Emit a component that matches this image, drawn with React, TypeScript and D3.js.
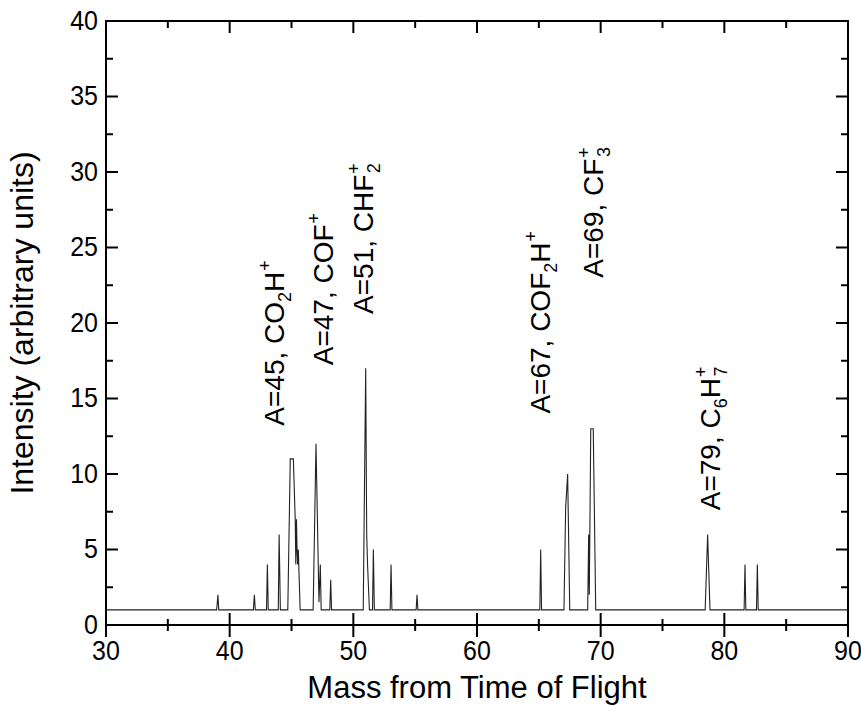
import React from "react";
import * as d3 from "d3";

// ---- data ----
const mass: number[] = [
  30, 38.95, 39.05, 39.12, 41.92, 42.0, 42.07, 42.98, 43.05, 43.12,
  43.93, 44.0, 44.1, 44.7, 44.9, 45.15, 45.3, 45.35, 45.4, 45.45, 45.5, 45.55, 45.7,
  46.75, 46.98, 47.22, 47.33, 47.4, 48.1, 48.17, 48.24,
  50.8, 51.0, 51.08, 51.15, 51.3, 51.55, 51.62, 51.7, 52.98, 53.05, 53.12,
  55.08, 55.15, 55.22, 65.08, 65.15, 65.22,
  67.03, 67.17, 67.33, 67.5, 68.95, 69.03, 69.08, 69.2, 69.4, 69.6,
  78.45, 78.49, 78.65, 78.84, 81.6, 81.67, 81.74, 82.6, 82.67, 82.74, 90,
];
const intensity: number[] = [
  1, 1, 2, 1, 1, 2, 1, 1, 4, 1,
  1, 6, 1, 1, 11, 11, 7, 4, 7, 5, 4, 5, 1,
  1, 12, 1.5, 4, 1, 1, 3, 1,
  1, 17, 6, 4, 1, 1, 5, 1, 1, 4, 1,
  1, 2, 1, 1, 5, 1,
  1, 7.8, 10, 1, 1, 6, 2, 13, 13, 1,
  1, 2, 6, 1, 1, 4, 1, 1, 4, 1, 1,
];

const xTicks: number[] = [30, 40, 50, 60, 70, 80, 90];
const xMinorTicks: number[] = [35, 45, 55, 65, 75, 85];
const yTicks: number[] = [0, 5, 10, 15, 20, 25, 30, 35, 40];
const yMinorTicks: number[] = [2.5, 7.5, 12.5, 17.5, 22.5, 27.5, 32.5, 37.5];

type Part = [string, "n" | "sub" | "sup" | "stack"];
const labelMass: number[] = [44.39, 48.36, 51.59, 65.9, 70.19, 79.65];
const labelIntensity: number[] = [13.2, 17.2, 20.6, 14.0, 23.0, 7.6];
const labelParts: Part[][] = [
  [["A=45, CO", "n"], ["2", "sub"], ["H", "n"], ["+", "sup"]],
  [["A=47, COF", "n"], ["+", "sup"]],
  [["A=51, CHF", "n"], ["+", "sup"], ["2", "stack"]],
  [["A=67, COF", "n"], ["2", "sub"], ["H", "n"], ["+", "sup"]],
  [["A=69, CF", "n"], ["+", "sup"], ["3", "stack"]],
  [["A=79, C", "n"], ["6", "sub"], ["H", "n"], ["+", "sup"], ["7", "stack"]],
];

const xTitle = "Mass from Time of Flight";
const yTitle = "Intensity (arbitrary units)";

const W = 861;
const H = 710;
const FONT = "'Liberation Sans', Arial, Helvetica, sans-serif";

export default function App() {
  const x = d3.scaleLinear().domain([30, 90]).range([106, 848]);
  const y = d3.scaleLinear().domain([0, 40]).range([625, 21]);
  const line = d3
    .line<number>()
    .x((_, i) => x(mass[i]))
    .y((d) => y(d));
  const path = line(intensity) || "";

  const [x0, x1] = x.range();
  const [y0, y1] = y.range();

  const renderParts = (parts: Part[]) => {
    let cur = 0;
    const SUB = 7;
    const SUP = -13;
    return parts.map(([t, kind], i) => {
      let target = 0;
      let dx = 0;
      let fs = 28;
      if (kind === "sub") { target = SUB; fs = 18; }
      if (kind === "sup") { target = SUP; fs = 18; dx = 1; }
      if (kind === "stack") { target = SUB; fs = 18; dx = -10; }
      const dy = target - cur;
      cur = target;
      return (
        <tspan key={i} dy={dy} dx={dx} fontSize={fs}>
          {t}
        </tspan>
      );
    });
  };

  return (
    <svg
      width={W}
      height={H}
      style={{ position: "absolute", left: 0, top: 0, background: "#fff" }}
      fontFamily={FONT}
    >
      <rect x={0} y={0} width={W} height={H} fill="#fff" />
      {/* data line */}
      <path d={path} fill="none" stroke="#222" strokeWidth={1.1} />

      {/* frame */}
      <rect x={x0} y={y1} width={x1 - x0} height={y0 - y1} fill="none" stroke="#000" strokeWidth={2} />

      {/* bottom ticks (crossing) */}
      {xTicks.map((t) => (
        <line key={"xb" + t} x1={x(t)} x2={x(t)} y1={y0 - 12} y2={y0 + 12} stroke="#000" strokeWidth={2} />
      ))}
      {xMinorTicks.map((t) => (
        <line key={"xbm" + t} x1={x(t)} x2={x(t)} y1={y0 - 6} y2={y0 + 6} stroke="#000" strokeWidth={2} />
      ))}
      {/* top ticks (inward) */}
      {xTicks.map((t) => (
        <line key={"xt" + t} x1={x(t)} x2={x(t)} y1={y1} y2={y1 + 12} stroke="#000" strokeWidth={2} />
      ))}
      {xMinorTicks.map((t) => (
        <line key={"xtm" + t} x1={x(t)} x2={x(t)} y1={y1} y2={y1 + 7} stroke="#000" strokeWidth={2} />
      ))}
      {/* left ticks (inward) */}
      {yTicks.map((t) => (
        <line key={"yl" + t} x1={x0} x2={x0 + 12} y1={y(t)} y2={y(t)} stroke="#000" strokeWidth={2} />
      ))}
      {yMinorTicks.map((t) => (
        <line key={"ylm" + t} x1={x0} x2={x0 + 7} y1={y(t)} y2={y(t)} stroke="#000" strokeWidth={2} />
      ))}
      {/* right ticks (inward) */}
      {yTicks.map((t) => (
        <line key={"yr" + t} x1={x1} x2={x1 - 12} y1={y(t)} y2={y(t)} stroke="#000" strokeWidth={2} />
      ))}
      {yMinorTicks.map((t) => (
        <line key={"yrm" + t} x1={x1} x2={x1 - 7} y1={y(t)} y2={y(t)} stroke="#000" strokeWidth={2} />
      ))}

      {/* tick labels */}
      {xTicks.map((t) => (
        <text key={"xl" + t} x={x(t)} y={y0 + 35} textAnchor="middle" fontSize={25} fill="#000"
          transform={`translate(0,${-(y0 + 35) * 0.1}) scale(1,1.1)`}>
          {t}
        </text>
      ))}
      {yTicks.map((t) => (
        <text key={"yl" + t} x={x0 - 8} y={y(t) + 9} textAnchor="end" fontSize={25} fill="#000"
          transform={`translate(0,${-(y(t) + 9) * 0.1}) scale(1,1.1)`}>
          {t}
        </text>
      ))}

      {/* axis titles */}
      <text x={(x0 + x1) / 2} y={698} textAnchor="middle" fontSize={31} fill="#000">
        {xTitle}
      </text>
      <text
        transform={`translate(33,${(y0 + y1) / 2}) rotate(-90)`}
        textAnchor="middle"
        fontSize={32}
        fill="#000"
      >
        {yTitle}
      </text>

      {/* annotations */}
      {labelParts.map((parts, i) => (
        <text
          key={"ann" + i}
          transform={`translate(${x(labelMass[i])},${y(labelIntensity[i])}) rotate(-90)`}
          fontSize={28}
          fill="#000"
        >
          {renderParts(parts)}
        </text>
      ))}
    </svg>
  );
}
